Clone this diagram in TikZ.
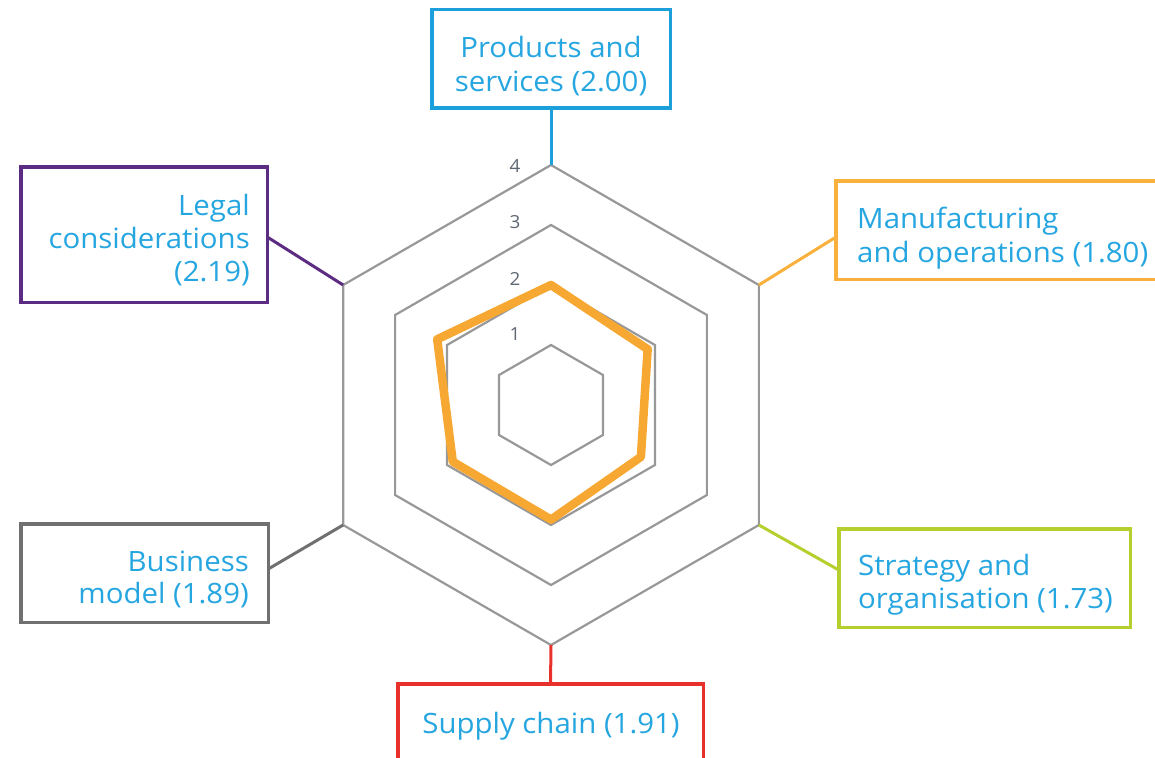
\documentclass[tikz,border=0pt]{standalone}
\usepackage{fontspec}
\setmainfont{Open Sans}[FakeStretch=1.05]
\usetikzlibrary{calc}
\definecolor{lblue}{RGB}{38,166,224}
\definecolor{pblue}{RGB}{27,160,219}
\definecolor{morange}{RGB}{250,176,60}
\definecolor{dorange}{RGB}{247,168,51}
\definecolor{lpurple}{RGB}{92,44,131}
\definecolor{bgray}{RGB}{112,112,112}
\definecolor{sgreen}{RGB}{183,207,46}
\definecolor{sred}{RGB}{232,49,42}
\definecolor{hexgray}{RGB}{152,152,152}
\definecolor{numgray}{RGB}{95,103,115}
\tikzset{
  boxnode/.style={draw, line width=3.5pt, inner sep=0pt, outer sep=0pt, rectangle, fill=white},
  spoke/.style={line width=3pt},
  hexline/.style={draw=hexgray, line width=2.2pt, line join=miter},
  lbl/.style={text=lblue, font=\fontsize{28}{33}\selectfont, inner sep=0pt},
  numlbl/.style={text=numgray, font=\fontsize{18}{20}\selectfont, inner sep=0pt},
  datapoly/.style={draw=dorange, line width=8.5pt, line join=round}
}
\begin{document}
\begin{tikzpicture}[x=1pt,y=-1pt]
\useasboundingbox (0,0) rectangle (1155,757);
\clip (0,0) rectangle (1155,757);
% grid hexagons
\foreach \lv in {1,2,3,4}{
  \pgfmathsetmacro{\r}{60*\lv}
  \draw[hexline] ({551+\r*cos(90)},{405-\r*sin(90)}) -- ({551+\r*cos(30)},{405-\r*sin(30)}) -- ({551+\r*cos(-30)},{405-\r*sin(-30)}) -- ({551+\r*cos(-90)},{405-\r*sin(-90)}) -- ({551+\r*cos(-150)},{405-\r*sin(-150)}) -- ({551+\r*cos(150)},{405-\r*sin(150)}) -- cycle;
}
% outer vertices
\coordinate (v1) at (551,165);
\coordinate (v2) at (758.85,285);
\coordinate (v3) at (758.85,525);
\coordinate (v4) at (551,645);
\coordinate (v5) at (343.15,525);
\coordinate (v6) at (343.15,285);
% data polygon
\draw[datapoly] ({551+120*cos(90)},{405-120*sin(90)}) -- ({551+111.6*cos(30)},{405-111.6*sin(30)}) -- ({551+103.8*cos(-30)},{405-103.8*sin(-30)}) -- ({551+114.6*cos(-90)},{405-114.6*sin(-90)}) -- ({551+113.4*cos(-150)},{405-113.4*sin(-150)}) -- ({551+131.4*cos(150)},{405-131.4*sin(150)}) -- cycle;
% scale numbers
\node[numlbl] (n4) at (515,166) {4};
\node[numlbl] (n3) at (515,222) {3};
\node[numlbl] (n2) at (515,279) {2};
\node[numlbl] (n1) at (515,334) {1};
% boxes
\node[boxnode, draw=pblue, minimum width=238.5pt, minimum height=98.5pt] (ps) at (551,59) {};
\node[boxnode, draw=morange, minimum width=337pt, minimum height=98.5pt] (mo) at (1004.5,230) {};
\node[boxnode, draw=lpurple, minimum width=246.5pt, minimum height=135.5pt] (lc) at (144,234.5) {};
\node[boxnode, draw=bgray, minimum width=247.5pt, minimum height=98.5pt] (bm) at (144.5,573) {};
\node[boxnode, draw=sgreen, minimum width=291.5pt, minimum height=98.5pt] (so) at (984.5,578) {};
\node[boxnode, draw=sred, minimum width=305.5pt, minimum height=104pt] (sc) at (550.5,736) {};
% spokes
\draw[spoke, draw=pblue] (v1) -- (ps.south);
\draw[spoke, draw=morange] (v2) -- ($(mo.west)+(0,7)$);
\draw[spoke, draw=lpurple] (v6) -- ($(lc.east)+(0,2.5)$);
\draw[spoke, draw=bgray] (v5) -- ($(bm.east)+(0,-4)$);
\draw[spoke, draw=sgreen] (v3) -- ($(so.west)+(0,-8)$);
\draw[spoke, draw=sred] (v4) -- (sc.north);
% labels
\node[lbl, anchor=base] (ps1) at (551,58) {Products and};
\node[lbl, anchor=base] (ps2) at (551,92) {services (2.00)};
\node[lbl, anchor=base west] (mo1) at (857,228) {Manufacturing};
\node[lbl, anchor=base west] (mo2) at (857,262) {and operations (1.80)};
\node[lbl, anchor=base east] (lc1) at (250,215) {Legal};
\node[lbl, anchor=base east] (lc2) at (250,248) {considerations};
\node[lbl, anchor=base east] (lc3) at (250,281) {(2.19)};
\node[lbl, anchor=base east] (bm1) at (249,571) {Business};
\node[lbl, anchor=base east] (bm2) at (249,603) {model (1.89)};
\node[lbl, anchor=base west] (so1) at (858,575) {Strategy and};
\node[lbl, anchor=base west] (so2) at (858,608) {organisation (1.73)};
\node[lbl, anchor=base] (sc1) at (551,733) {Supply chain (1.91)};
\end{tikzpicture}
\end{document}
